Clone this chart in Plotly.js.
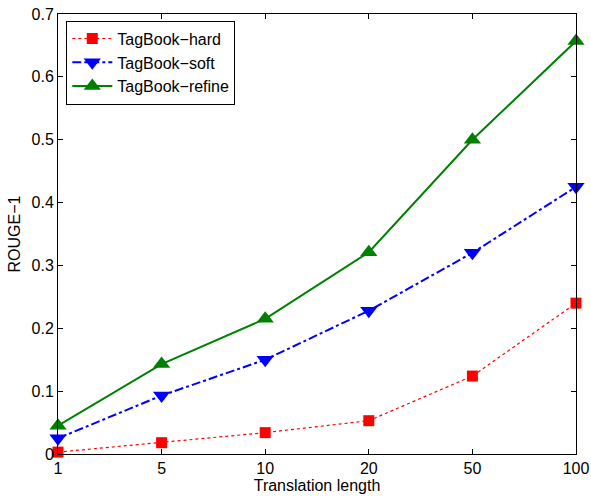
<!DOCTYPE html>
<html>
<head>
<meta charset="utf-8">
<script src="https://cdn.plot.ly/plotly-3.0.1.min.js"></script>
<style>html,body{margin:0;padding:0;background:#fff;}#chart{width:591px;height:496px;}</style>
</head>
<body>
<div id="chart"></div>
<script>
const categories = ['1', '5', '10', '20', '50', '100'];
const hardValues = [0.003, 0.018, 0.034, 0.053, 0.124, 0.240];
const softValues = [0.025, 0.093, 0.150, 0.228, 0.320, 0.425];
const refineValues = [0.045, 0.143, 0.215, 0.321, 0.500, 0.657];
const yTickVals = [0, 0.1, 0.2, 0.3, 0.4, 0.5, 0.6, 0.7];
const yTickText = ['0', '0.1', '0.2', '0.3', '0.4', '0.5', '0.6', '0.7'];

const traces = [
  {x: categories, y: hardValues, name: 'TagBook\u2212hard', mode: 'lines+markers',
   line: {color: '#ff0000', width: 1.2, dash: 'dot'},
   marker: {symbol: 'square', size: 11, color: '#ff0000'}, cliponaxis: false},
  {x: categories, y: softValues, name: 'TagBook\u2212soft', mode: 'lines+markers',
   line: {color: '#0000ff', width: 2, dash: 'dashdot'},
   marker: {symbol: 'triangle-down', size: 15, color: '#0000ff'}, cliponaxis: false},
  {x: categories, y: refineValues, name: 'TagBook\u2212refine', mode: 'lines+markers',
   line: {color: '#008000', width: 2, dash: 'solid'},
   marker: {symbol: 'triangle-up', size: 15, color: '#008000'}, cliponaxis: false}
];

const layout = {
  width: 591, height: 496,
  margin: {l: 58, r: 15, t: 14, b: 42},
  paper_bgcolor: '#ffffff', plot_bgcolor: '#ffffff',
  font: {family: 'Liberation Sans, Arial, sans-serif', size: 16, color: '#000'},
  showlegend: true,
  legend: {x: 0.016, y: 0.985, xanchor: 'left', yanchor: 'top',
    bordercolor: '#000', borderwidth: 1, bgcolor: '#fff',
    font: {size: 16}, tracegroupgap: 0, itemwidth: 40},
  xaxis: {type: 'category', range: [0, 5], showgrid: false, zeroline: false,
    showline: true, linecolor: '#000', linewidth: 1, mirror: 'ticks',
    ticks: 'inside', ticklen: 5, tickcolor: '#000',
    title: {text: 'Translation length', font: {size: 16}, standoff: 0}},
  yaxis: {range: [0, 0.7], tickvals: yTickVals, ticktext: yTickText,
    showgrid: false, zeroline: false,
    showline: true, linecolor: '#000', linewidth: 1, mirror: 'ticks',
    ticks: 'inside', ticklen: 5, tickcolor: '#000',
    title: {text: 'ROUGE\u22121', font: {size: 16}, standoff: 6}}
};

Plotly.newPlot('chart', traces, layout, {displayModeBar: false, staticPlot: true});
</script>
</body>
</html>
